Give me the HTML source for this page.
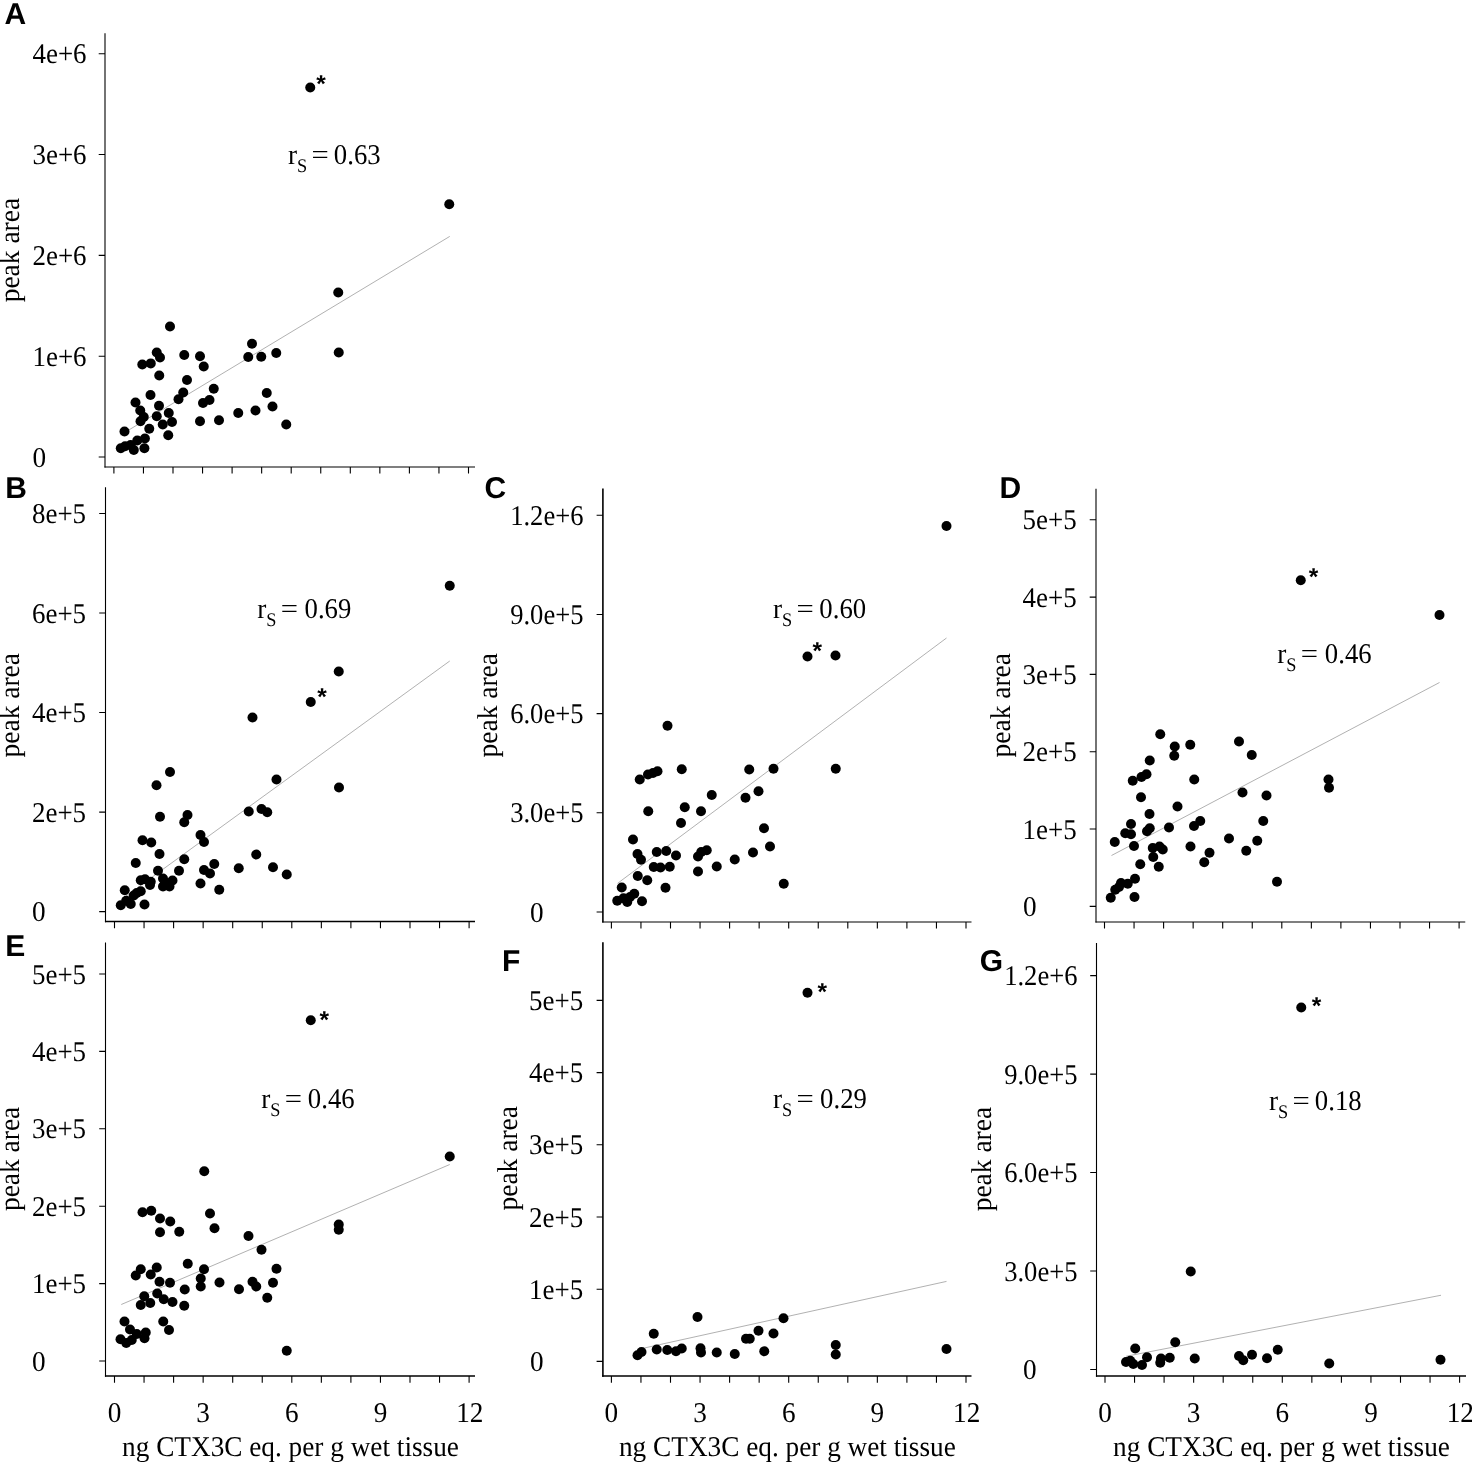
<!DOCTYPE html>
<html><head><meta charset="utf-8"><title>Figure</title>
<style>html,body{margin:0;padding:0;background:#fff}svg{display:block;will-change:transform}text{font-family:"Liberation Serif",serif;fill:#000;text-rendering:geometricPrecision}.pl{font-family:"Liberation Sans",sans-serif;font-weight:bold}.st{font-family:"Liberation Sans",sans-serif}</style></head><body>
<svg width="1472" height="1462" viewBox="0 0 1472 1462">
<rect width="1472" height="1462" fill="#fff"/>
<g id="panelA">
<path d="M105 33.2V467.55" fill="none" stroke="#000" stroke-width="1.1"/>
<path d="M104.45 467H475" fill="none" stroke="#000" stroke-width="1.1"/>
<path d="M98.7 53.75H105M98.7 154.56H105M98.7 255.38H105M98.7 356.19H105M98.7 457H105M113.9 467V473.6M143.45 467V473.6M173 467V473.6M202.55 467V473.6M232.1 467V473.6M261.65 467V473.6M291.2 467V473.6M320.75 467V473.6M350.3 467V473.6M379.85 467V473.6M409.4 467V473.6M438.95 467V473.6M468.5 467V473.6" fill="none" stroke="#000" stroke-width="1.1"/>
<text transform="translate(86.6 63.35) scale(0.942 1)" font-size="28.6" text-anchor="end">4e+6</text>
<text transform="translate(86.6 164.16) scale(0.942 1)" font-size="28.6" text-anchor="end">3e+6</text>
<text transform="translate(86.6 264.98) scale(0.942 1)" font-size="28.6" text-anchor="end">2e+6</text>
<text transform="translate(86.6 365.79) scale(0.942 1)" font-size="28.6" text-anchor="end">1e+6</text>
<text transform="translate(32.6 466.6) scale(0.952 1)" font-size="28.6" text-anchor="start">0</text>
<text class="pl" x="4.5" y="24.4" font-size="30">A</text>
<text transform="translate(19.3 250.1) rotate(-90) scale(0.96 1)" font-size="28.6" text-anchor="middle">peak area</text>
<text transform="translate(288 163.75) scale(0.952 1)" font-size="28.6" text-anchor="start">r</text>
<text transform="translate(297.05 172.15) scale(0.952 1)" font-size="19.2" text-anchor="start">S</text>
<text transform="translate(311.6 163.75) scale(1.07 1)" font-size="28.6" text-anchor="start">=</text>
<text transform="translate(380.65 163.75) scale(0.935 1)" font-size="28.6" text-anchor="end">0.63</text>
<line x1="120.5" y1="435" x2="449.75" y2="236.4" stroke="#707070" stroke-width="0.55"/>
<text class="st" x="321" y="91.6" font-size="24.5" font-weight="bold" text-anchor="middle">*</text>
<g fill="#000"><circle cx="310.25" cy="87.5" r="5.0"/><circle cx="449.25" cy="204.25" r="5.0"/><circle cx="338.25" cy="292.5" r="5.0"/><circle cx="170" cy="326.5" r="5.0"/><circle cx="252" cy="343.75" r="5.0"/><circle cx="156.75" cy="352.5" r="5.0"/><circle cx="184.25" cy="355" r="5.0"/><circle cx="200" cy="356.25" r="5.0"/><circle cx="248.25" cy="357" r="5.0"/><circle cx="261.25" cy="356.75" r="5.0"/><circle cx="276.25" cy="353" r="5.0"/><circle cx="338.75" cy="352.5" r="5.0"/><circle cx="160" cy="357.5" r="5.0"/><circle cx="150.75" cy="363.4" r="5.0"/><circle cx="142.3" cy="364.5" r="5.0"/><circle cx="203.75" cy="366.5" r="5.0"/><circle cx="159.25" cy="375.5" r="5.0"/><circle cx="187" cy="380" r="5.0"/><circle cx="213.75" cy="388.75" r="5.0"/><circle cx="266.75" cy="393" r="5.0"/><circle cx="150.5" cy="395" r="5.0"/><circle cx="183.25" cy="392.5" r="5.0"/><circle cx="178.5" cy="399.25" r="5.0"/><circle cx="209.5" cy="400" r="5.0"/><circle cx="203" cy="403" r="5.0"/><circle cx="135.5" cy="402.5" r="5.0"/><circle cx="159" cy="405.75" r="5.0"/><circle cx="272.5" cy="406.5" r="5.0"/><circle cx="140.25" cy="410.5" r="5.0"/><circle cx="255.5" cy="410.5" r="5.0"/><circle cx="168.75" cy="413" r="5.0"/><circle cx="238.25" cy="413" r="5.0"/><circle cx="143.75" cy="417" r="5.0"/><circle cx="156.75" cy="416.25" r="5.0"/><circle cx="140.5" cy="421.25" r="5.0"/><circle cx="200" cy="421.25" r="5.0"/><circle cx="219" cy="420.25" r="5.0"/><circle cx="172" cy="422" r="5.0"/><circle cx="162.75" cy="424.5" r="5.0"/><circle cx="286.25" cy="424.5" r="5.0"/><circle cx="149.25" cy="428.75" r="5.0"/><circle cx="124.5" cy="431.5" r="5.0"/><circle cx="168.25" cy="435.25" r="5.0"/><circle cx="144.9" cy="438.5" r="5.0"/><circle cx="137.3" cy="440.5" r="5.0"/><circle cx="130.6" cy="445" r="5.0"/><circle cx="125.1" cy="446.25" r="5.0"/><circle cx="120.8" cy="448.25" r="5.0"/><circle cx="144.4" cy="448.25" r="5.0"/><circle cx="133.8" cy="450" r="5.0"/></g>
</g>
<g id="panelB">
<path d="M105.5 487.3V922.3" fill="none" stroke="#000" stroke-width="1.1"/>
<path d="M104.95 921.55H475" fill="none" stroke="#000" stroke-width="1.5"/>
<path d="M99.2 513.5H105.5M99.2 613.02H105.5M99.2 712.55H105.5M99.2 812.08H105.5M99.2 911.6H105.5M114.5 921.55V928.15M144.05 921.55V928.15M173.6 921.55V928.15M203.15 921.55V928.15M232.7 921.55V928.15M262.25 921.55V928.15M291.8 921.55V928.15M321.35 921.55V928.15M350.9 921.55V928.15M380.45 921.55V928.15M410 921.55V928.15M439.55 921.55V928.15M469.1 921.55V928.15" fill="none" stroke="#000" stroke-width="1.1"/>
<text transform="translate(86.1 523.1) scale(0.942 1)" font-size="28.6" text-anchor="end">8e+5</text>
<text transform="translate(86.1 622.62) scale(0.942 1)" font-size="28.6" text-anchor="end">6e+5</text>
<text transform="translate(86.1 722.15) scale(0.942 1)" font-size="28.6" text-anchor="end">4e+5</text>
<text transform="translate(86.1 821.68) scale(0.942 1)" font-size="28.6" text-anchor="end">2e+5</text>
<text transform="translate(32 921.2) scale(0.952 1)" font-size="28.6" text-anchor="start">0</text>
<text class="pl" x="5.2" y="497.75" font-size="30">B</text>
<text transform="translate(19.3 705.2) rotate(-90) scale(0.96 1)" font-size="28.6" text-anchor="middle">peak area</text>
<text transform="translate(257.15 617.5) scale(0.952 1)" font-size="28.6" text-anchor="start">r</text>
<text transform="translate(266.2 625.9) scale(0.952 1)" font-size="19.2" text-anchor="start">S</text>
<text transform="translate(280.75 617.5) scale(1.07 1)" font-size="28.6" text-anchor="start">=</text>
<text transform="translate(351.35 617.5) scale(0.935 1)" font-size="28.6" text-anchor="end">0.69</text>
<line x1="120.75" y1="899.9" x2="449.75" y2="661" stroke="#707070" stroke-width="0.55"/>
<text class="st" x="322" y="704.85" font-size="24.5" font-weight="bold" text-anchor="middle">*</text>
<g fill="#000"><circle cx="449.75" cy="585.75" r="5.0"/><circle cx="338.75" cy="671.5" r="5.0"/><circle cx="310.75" cy="702" r="5.0"/><circle cx="252.5" cy="717.5" r="5.0"/><circle cx="170" cy="772" r="5.0"/><circle cx="156.5" cy="785.25" r="5.0"/><circle cx="276.5" cy="779.5" r="5.0"/><circle cx="339" cy="787.5" r="5.0"/><circle cx="187.5" cy="815" r="5.0"/><circle cx="160" cy="816.75" r="5.0"/><circle cx="184.25" cy="822.25" r="5.0"/><circle cx="248.75" cy="811.5" r="5.0"/><circle cx="261.5" cy="809" r="5.0"/><circle cx="267.25" cy="812.25" r="5.0"/><circle cx="200.5" cy="835" r="5.0"/><circle cx="204" cy="842" r="5.0"/><circle cx="142.5" cy="840.25" r="5.0"/><circle cx="151.25" cy="842.5" r="5.0"/><circle cx="159.5" cy="854" r="5.0"/><circle cx="256.25" cy="854.5" r="5.0"/><circle cx="135.75" cy="863" r="5.0"/><circle cx="184.25" cy="859.25" r="5.0"/><circle cx="214.25" cy="864" r="5.0"/><circle cx="238.75" cy="868.25" r="5.0"/><circle cx="273" cy="867.25" r="5.0"/><circle cx="158" cy="870.75" r="5.0"/><circle cx="179" cy="870.75" r="5.0"/><circle cx="204" cy="870" r="5.0"/><circle cx="210" cy="873.5" r="5.0"/><circle cx="286.75" cy="874.5" r="5.0"/><circle cx="140.75" cy="880.25" r="5.0"/><circle cx="145" cy="879.25" r="5.0"/><circle cx="150.75" cy="881.75" r="5.0"/><circle cx="163" cy="878.5" r="5.0"/><circle cx="172.5" cy="880.5" r="5.0"/><circle cx="150" cy="885" r="5.0"/><circle cx="165" cy="882.5" r="5.0"/><circle cx="163" cy="886.5" r="5.0"/><circle cx="169.5" cy="886.5" r="5.0"/><circle cx="200.5" cy="883.5" r="5.0"/><circle cx="124.75" cy="890.25" r="5.0"/><circle cx="219.25" cy="889.75" r="5.0"/><circle cx="140.75" cy="891.25" r="5.0"/><circle cx="136.75" cy="893" r="5.0"/><circle cx="133.75" cy="895.5" r="5.0"/><circle cx="126.25" cy="900.75" r="5.0"/><circle cx="120.75" cy="905.25" r="5.0"/><circle cx="130.75" cy="904" r="5.0"/><circle cx="144.5" cy="904.5" r="5.0"/></g>
</g>
<g id="panelC">
<path d="M602.9 488.5V922.55" fill="none" stroke="#000" stroke-width="1.6"/>
<path d="M602.1 922H971.5" fill="none" stroke="#000" stroke-width="1.1"/>
<path d="M596.6 515.25H602.9M596.6 614.44H602.9M596.6 713.62H602.9M596.6 812.81H602.9M596.6 912H602.9M611.4 922V928.6M640.95 922V928.6M670.5 922V928.6M700.05 922V928.6M729.6 922V928.6M759.15 922V928.6M788.7 922V928.6M818.25 922V928.6M847.8 922V928.6M877.35 922V928.6M906.9 922V928.6M936.45 922V928.6M966 922V928.6" fill="none" stroke="#000" stroke-width="1.1"/>
<text transform="translate(583.5 524.85) scale(0.93 1)" font-size="28.6" text-anchor="end">1.2e+6</text>
<text transform="translate(583.5 624.04) scale(0.93 1)" font-size="28.6" text-anchor="end">9.0e+5</text>
<text transform="translate(583.5 723.22) scale(0.93 1)" font-size="28.6" text-anchor="end">6.0e+5</text>
<text transform="translate(583.5 822.41) scale(0.93 1)" font-size="28.6" text-anchor="end">3.0e+5</text>
<text transform="translate(529.9 921.6) scale(0.952 1)" font-size="28.6" text-anchor="start">0</text>
<text class="pl" x="484.4" y="497.8" font-size="30">C</text>
<text transform="translate(496.6 705.2) rotate(-90) scale(0.96 1)" font-size="28.6" text-anchor="middle">peak area</text>
<text transform="translate(772.9 618) scale(0.952 1)" font-size="28.6" text-anchor="start">r</text>
<text transform="translate(781.95 626.4) scale(0.952 1)" font-size="19.2" text-anchor="start">S</text>
<text transform="translate(796.5 618) scale(1.07 1)" font-size="28.6" text-anchor="start">=</text>
<text transform="translate(866.15 618) scale(0.935 1)" font-size="28.6" text-anchor="end">0.60</text>
<line x1="617.5" y1="883.4" x2="946.5" y2="638" stroke="#707070" stroke-width="0.55"/>
<text class="st" x="817.25" y="659.1" font-size="24.5" font-weight="bold" text-anchor="middle">*</text>
<g fill="#000"><circle cx="946.5" cy="526" r="5.0"/><circle cx="807.5" cy="656.5" r="5.0"/><circle cx="835.5" cy="655.5" r="5.0"/><circle cx="667.5" cy="725.75" r="5.0"/><circle cx="681.75" cy="769.25" r="5.0"/><circle cx="657.5" cy="771.25" r="5.0"/><circle cx="653" cy="773" r="5.0"/><circle cx="648" cy="774.5" r="5.0"/><circle cx="639.75" cy="779.5" r="5.0"/><circle cx="711.75" cy="795" r="5.0"/><circle cx="684.75" cy="807.25" r="5.0"/><circle cx="648.25" cy="811.25" r="5.0"/><circle cx="701" cy="811.25" r="5.0"/><circle cx="681" cy="823" r="5.0"/><circle cx="633" cy="839.5" r="5.0"/><circle cx="656.75" cy="852" r="5.0"/><circle cx="666.25" cy="851" r="5.0"/><circle cx="706.75" cy="850.25" r="5.0"/><circle cx="701.25" cy="852" r="5.0"/><circle cx="637.5" cy="854" r="5.0"/><circle cx="676" cy="855.5" r="5.0"/><circle cx="698" cy="856.5" r="5.0"/><circle cx="641" cy="859.75" r="5.0"/><circle cx="734.75" cy="859.5" r="5.0"/><circle cx="653.75" cy="867" r="5.0"/><circle cx="660.5" cy="867.5" r="5.0"/><circle cx="669.75" cy="866.75" r="5.0"/><circle cx="716.75" cy="866.5" r="5.0"/><circle cx="698" cy="871.5" r="5.0"/><circle cx="637.75" cy="876" r="5.0"/><circle cx="647.25" cy="880.25" r="5.0"/><circle cx="665.5" cy="887.75" r="5.0"/><circle cx="621.75" cy="887.5" r="5.0"/><circle cx="634.25" cy="893.75" r="5.0"/><circle cx="630" cy="897" r="5.0"/><circle cx="623.5" cy="898.25" r="5.0"/><circle cx="617.25" cy="900.75" r="5.0"/><circle cx="627.25" cy="902" r="5.0"/><circle cx="642" cy="901.25" r="5.0"/><circle cx="749.25" cy="769.5" r="5.0"/><circle cx="773.5" cy="768.75" r="5.0"/><circle cx="835.75" cy="768.75" r="5.0"/><circle cx="758.5" cy="791.25" r="5.0"/><circle cx="745.5" cy="797.75" r="5.0"/><circle cx="764" cy="828.25" r="5.0"/><circle cx="770" cy="846.5" r="5.0"/><circle cx="753" cy="852.5" r="5.0"/><circle cx="783.75" cy="883.75" r="5.0"/></g>
</g>
<g id="panelD">
<path d="M1096 488.75V922.55" fill="none" stroke="#000" stroke-width="1.1"/>
<path d="M1095.45 922H1465.25" fill="none" stroke="#000" stroke-width="1.1"/>
<path d="M1089.7 519.75H1096M1089.7 597.08H1096M1089.7 674.41H1096M1089.7 751.74H1096M1089.7 829.07H1096M1089.7 906.4H1096M1104.5 922V928.6M1134.05 922V928.6M1163.6 922V928.6M1193.15 922V928.6M1222.7 922V928.6M1252.25 922V928.6M1281.8 922V928.6M1311.35 922V928.6M1340.9 922V928.6M1370.45 922V928.6M1400 922V928.6M1429.55 922V928.6M1459.1 922V928.6" fill="none" stroke="#000" stroke-width="1.1"/>
<text transform="translate(1076.7 529.35) scale(0.942 1)" font-size="28.6" text-anchor="end">5e+5</text>
<text transform="translate(1076.7 606.68) scale(0.942 1)" font-size="28.6" text-anchor="end">4e+5</text>
<text transform="translate(1076.7 684.01) scale(0.942 1)" font-size="28.6" text-anchor="end">3e+5</text>
<text transform="translate(1076.7 761.34) scale(0.942 1)" font-size="28.6" text-anchor="end">2e+5</text>
<text transform="translate(1076.7 838.67) scale(0.942 1)" font-size="28.6" text-anchor="end">1e+5</text>
<text transform="translate(1022.9 916) scale(0.952 1)" font-size="28.6" text-anchor="start">0</text>
<text class="pl" x="999.6" y="497.75" font-size="30">D</text>
<text transform="translate(1009.9 705.2) rotate(-90) scale(0.96 1)" font-size="28.6" text-anchor="middle">peak area</text>
<text transform="translate(1277.15 662.5) scale(0.952 1)" font-size="28.6" text-anchor="start">r</text>
<text transform="translate(1286.2 670.9) scale(0.952 1)" font-size="19.2" text-anchor="start">S</text>
<text transform="translate(1300.75 662.5) scale(1.07 1)" font-size="28.6" text-anchor="start">=</text>
<text transform="translate(1371.65 662.5) scale(0.935 1)" font-size="28.6" text-anchor="end">0.46</text>
<line x1="1111.5" y1="855.5" x2="1439.5" y2="682.5" stroke="#707070" stroke-width="0.55"/>
<text class="st" x="1313.5" y="584.85" font-size="24.5" font-weight="bold" text-anchor="middle">*</text>
<g fill="#000"><circle cx="1300.75" cy="580.25" r="5.0"/><circle cx="1439.5" cy="615" r="5.0"/><circle cx="1160.25" cy="734.25" r="5.0"/><circle cx="1239" cy="741.5" r="5.0"/><circle cx="1190.25" cy="744.75" r="5.0"/><circle cx="1174.75" cy="746.5" r="5.0"/><circle cx="1251.75" cy="755" r="5.0"/><circle cx="1174.25" cy="755.75" r="5.0"/><circle cx="1149.75" cy="760.5" r="5.0"/><circle cx="1146.5" cy="774.25" r="5.0"/><circle cx="1141.5" cy="777" r="5.0"/><circle cx="1132.75" cy="780.75" r="5.0"/><circle cx="1194.25" cy="779.5" r="5.0"/><circle cx="1328.5" cy="779.5" r="5.0"/><circle cx="1329" cy="787.75" r="5.0"/><circle cx="1242.5" cy="792.5" r="5.0"/><circle cx="1266.5" cy="795.5" r="5.0"/><circle cx="1141" cy="797.25" r="5.0"/><circle cx="1177.5" cy="806.5" r="5.0"/><circle cx="1149.5" cy="814" r="5.0"/><circle cx="1263.25" cy="821" r="5.0"/><circle cx="1200.25" cy="821" r="5.0"/><circle cx="1131" cy="824" r="5.0"/><circle cx="1194" cy="826" r="5.0"/><circle cx="1169" cy="827.5" r="5.0"/><circle cx="1149.75" cy="828.25" r="5.0"/><circle cx="1147" cy="831.25" r="5.0"/><circle cx="1125.25" cy="833.25" r="5.0"/><circle cx="1131" cy="834.25" r="5.0"/><circle cx="1229" cy="838.5" r="5.0"/><circle cx="1257.25" cy="840.75" r="5.0"/><circle cx="1114.75" cy="842" r="5.0"/><circle cx="1134" cy="846" r="5.0"/><circle cx="1190.5" cy="846.5" r="5.0"/><circle cx="1152.75" cy="848" r="5.0"/><circle cx="1159.5" cy="846.5" r="5.0"/><circle cx="1162.75" cy="849.5" r="5.0"/><circle cx="1246.25" cy="850.75" r="5.0"/><circle cx="1209.5" cy="852.75" r="5.0"/><circle cx="1153.25" cy="857" r="5.0"/><circle cx="1204.25" cy="862.25" r="5.0"/><circle cx="1140.25" cy="864.25" r="5.0"/><circle cx="1158.75" cy="866.75" r="5.0"/><circle cx="1135" cy="878.75" r="5.0"/><circle cx="1277" cy="881.75" r="5.0"/><circle cx="1121" cy="883" r="5.0"/><circle cx="1127.75" cy="883.75" r="5.0"/><circle cx="1119" cy="887" r="5.0"/><circle cx="1115.25" cy="889.75" r="5.0"/><circle cx="1110.75" cy="897.75" r="5.0"/><circle cx="1134.5" cy="897" r="5.0"/></g>
</g>
<g id="panelE">
<path d="M105.5 942.5V1376.85" fill="none" stroke="#000" stroke-width="1.1"/>
<path d="M104.95 1376.1H475" fill="none" stroke="#000" stroke-width="1.5"/>
<path d="M99.2 974H105.5M99.2 1051.41H105.5M99.2 1128.82H105.5M99.2 1206.24H105.5M99.2 1283.65H105.5M99.2 1361.06H105.5M114.5 1376.1V1382.7M144.05 1376.1V1382.7M173.6 1376.1V1382.7M203.15 1376.1V1382.7M232.7 1376.1V1382.7M262.25 1376.1V1382.7M291.8 1376.1V1382.7M321.35 1376.1V1382.7M350.9 1376.1V1382.7M380.45 1376.1V1382.7M410 1376.1V1382.7M439.55 1376.1V1382.7M469.1 1376.1V1382.7" fill="none" stroke="#000" stroke-width="1.1"/>
<text transform="translate(86.1 983.6) scale(0.942 1)" font-size="28.6" text-anchor="end">5e+5</text>
<text transform="translate(86.1 1061.01) scale(0.942 1)" font-size="28.6" text-anchor="end">4e+5</text>
<text transform="translate(86.1 1138.42) scale(0.942 1)" font-size="28.6" text-anchor="end">3e+5</text>
<text transform="translate(86.1 1215.84) scale(0.942 1)" font-size="28.6" text-anchor="end">2e+5</text>
<text transform="translate(86.1 1293.25) scale(0.942 1)" font-size="28.6" text-anchor="end">1e+5</text>
<text transform="translate(32 1370.66) scale(0.952 1)" font-size="28.6" text-anchor="start">0</text>
<text transform="translate(114.5 1421.8) scale(0.952 1)" font-size="28.6" text-anchor="middle">0</text>
<text transform="translate(203.15 1421.8) scale(0.952 1)" font-size="28.6" text-anchor="middle">3</text>
<text transform="translate(291.8 1421.8) scale(0.952 1)" font-size="28.6" text-anchor="middle">6</text>
<text transform="translate(380.45 1421.8) scale(0.952 1)" font-size="28.6" text-anchor="middle">9</text>
<text transform="translate(469.8 1421.8) scale(0.952 1)" font-size="28.6" text-anchor="middle">12</text>
<text transform="translate(122.1 1456.3) scale(0.953 1)" font-size="28.6" text-anchor="start">ng CTX3C eq. per g wet tissue</text>
<text class="pl" x="5.2" y="956" font-size="30">E</text>
<text transform="translate(19.3 1158.9) rotate(-90) scale(0.96 1)" font-size="28.6" text-anchor="middle">peak area</text>
<text transform="translate(261.15 1108) scale(0.952 1)" font-size="28.6" text-anchor="start">r</text>
<text transform="translate(270.2 1116.4) scale(0.952 1)" font-size="19.2" text-anchor="start">S</text>
<text transform="translate(284.75 1108) scale(1.07 1)" font-size="28.6" text-anchor="start">=</text>
<text transform="translate(354.65 1108) scale(0.935 1)" font-size="28.6" text-anchor="end">0.46</text>
<line x1="121.25" y1="1304.5" x2="449.75" y2="1164.5" stroke="#707070" stroke-width="0.55"/>
<text class="st" x="324.25" y="1027.85" font-size="24.5" font-weight="bold" text-anchor="middle">*</text>
<g fill="#000"><circle cx="310.75" cy="1020.25" r="5.0"/><circle cx="449.75" cy="1156.5" r="5.0"/><circle cx="204.25" cy="1171.25" r="5.0"/><circle cx="142.5" cy="1212.25" r="5.0"/><circle cx="151.25" cy="1210.75" r="5.0"/><circle cx="210" cy="1213.5" r="5.0"/><circle cx="160" cy="1218.5" r="5.0"/><circle cx="170.25" cy="1221.5" r="5.0"/><circle cx="214.5" cy="1228.25" r="5.0"/><circle cx="160" cy="1232.25" r="5.0"/><circle cx="179.25" cy="1231.75" r="5.0"/><circle cx="338.75" cy="1224.5" r="5.0"/><circle cx="338.75" cy="1229.75" r="5.0"/><circle cx="248.5" cy="1236" r="5.0"/><circle cx="261.5" cy="1249.75" r="5.0"/><circle cx="187.75" cy="1263.75" r="5.0"/><circle cx="156.75" cy="1267.5" r="5.0"/><circle cx="140.75" cy="1269.25" r="5.0"/><circle cx="276.5" cy="1268.75" r="5.0"/><circle cx="204" cy="1269.25" r="5.0"/><circle cx="150.75" cy="1274.5" r="5.0"/><circle cx="135.75" cy="1275.5" r="5.0"/><circle cx="200.75" cy="1278.5" r="5.0"/><circle cx="159.5" cy="1281.75" r="5.0"/><circle cx="170" cy="1282.75" r="5.0"/><circle cx="219.5" cy="1282.5" r="5.0"/><circle cx="252.5" cy="1281.75" r="5.0"/><circle cx="273" cy="1282.75" r="5.0"/><circle cx="200.75" cy="1286.5" r="5.0"/><circle cx="256.25" cy="1286.5" r="5.0"/><circle cx="184.75" cy="1289.5" r="5.0"/><circle cx="239" cy="1289.25" r="5.0"/><circle cx="157.25" cy="1293.5" r="5.0"/><circle cx="144.25" cy="1296.25" r="5.0"/><circle cx="267.25" cy="1297.75" r="5.0"/><circle cx="163.75" cy="1299.25" r="5.0"/><circle cx="172.5" cy="1302" r="5.0"/><circle cx="150.25" cy="1303" r="5.0"/><circle cx="140.75" cy="1305" r="5.0"/><circle cx="184.25" cy="1305.75" r="5.0"/><circle cx="124.5" cy="1321.5" r="5.0"/><circle cx="163.25" cy="1321.5" r="5.0"/><circle cx="130" cy="1329.5" r="5.0"/><circle cx="169" cy="1330" r="5.0"/><circle cx="145.75" cy="1332.5" r="5.0"/><circle cx="136.75" cy="1334" r="5.0"/><circle cx="144.5" cy="1338.25" r="5.0"/><circle cx="120.5" cy="1339.25" r="5.0"/><circle cx="131.75" cy="1340" r="5.0"/><circle cx="126.25" cy="1343" r="5.0"/><circle cx="286.75" cy="1350.75" r="5.0"/></g>
</g>
<g id="panelF">
<path d="M602.9 942.3V1376.85" fill="none" stroke="#000" stroke-width="1.6"/>
<path d="M602.1 1376.1H971.5" fill="none" stroke="#000" stroke-width="1.5"/>
<path d="M596.6 1000.4H602.9M596.6 1072.6H602.9M596.6 1144.8H602.9M596.6 1217H602.9M596.6 1289.2H602.9M596.6 1361.4H602.9M611.4 1376.1V1382.7M640.95 1376.1V1382.7M670.5 1376.1V1382.7M700.05 1376.1V1382.7M729.6 1376.1V1382.7M759.15 1376.1V1382.7M788.7 1376.1V1382.7M818.25 1376.1V1382.7M847.8 1376.1V1382.7M877.35 1376.1V1382.7M906.9 1376.1V1382.7M936.45 1376.1V1382.7M966 1376.1V1382.7" fill="none" stroke="#000" stroke-width="1.1"/>
<text transform="translate(583.2 1010) scale(0.942 1)" font-size="28.6" text-anchor="end">5e+5</text>
<text transform="translate(583.2 1082.2) scale(0.942 1)" font-size="28.6" text-anchor="end">4e+5</text>
<text transform="translate(583.2 1154.4) scale(0.942 1)" font-size="28.6" text-anchor="end">3e+5</text>
<text transform="translate(583.2 1226.6) scale(0.942 1)" font-size="28.6" text-anchor="end">2e+5</text>
<text transform="translate(583.2 1298.8) scale(0.942 1)" font-size="28.6" text-anchor="end">1e+5</text>
<text transform="translate(529.9 1371) scale(0.952 1)" font-size="28.6" text-anchor="start">0</text>
<text transform="translate(611.4 1421.8) scale(0.952 1)" font-size="28.6" text-anchor="middle">0</text>
<text transform="translate(700.05 1421.8) scale(0.952 1)" font-size="28.6" text-anchor="middle">3</text>
<text transform="translate(788.7 1421.8) scale(0.952 1)" font-size="28.6" text-anchor="middle">6</text>
<text transform="translate(877.35 1421.8) scale(0.952 1)" font-size="28.6" text-anchor="middle">9</text>
<text transform="translate(966.7 1421.8) scale(0.952 1)" font-size="28.6" text-anchor="middle">12</text>
<text transform="translate(619 1456.3) scale(0.953 1)" font-size="28.6" text-anchor="start">ng CTX3C eq. per g wet tissue</text>
<text class="pl" x="502" y="970.9" font-size="30">F</text>
<text transform="translate(516.7 1158.3) rotate(-90) scale(0.96 1)" font-size="28.6" text-anchor="middle">peak area</text>
<text transform="translate(772.9 1107.5) scale(0.952 1)" font-size="28.6" text-anchor="start">r</text>
<text transform="translate(781.95 1115.9) scale(0.952 1)" font-size="19.2" text-anchor="start">S</text>
<text transform="translate(796.5 1107.5) scale(1.07 1)" font-size="28.6" text-anchor="start">=</text>
<text transform="translate(866.9 1107.5) scale(0.935 1)" font-size="28.6" text-anchor="end">0.29</text>
<line x1="637.5" y1="1349.5" x2="946.5" y2="1281.4" stroke="#707070" stroke-width="0.55"/>
<text class="st" x="822.25" y="1000.35" font-size="24.5" font-weight="bold" text-anchor="middle">*</text>
<g fill="#000"><circle cx="807.5" cy="992.75" r="5.0"/><circle cx="697.5" cy="1317" r="5.0"/><circle cx="653.75" cy="1333.75" r="5.0"/><circle cx="656.75" cy="1349.5" r="5.0"/><circle cx="667.25" cy="1350" r="5.0"/><circle cx="681.75" cy="1348.5" r="5.0"/><circle cx="676" cy="1351.25" r="5.0"/><circle cx="700.5" cy="1348.25" r="5.0"/><circle cx="701" cy="1352.5" r="5.0"/><circle cx="716.75" cy="1352.5" r="5.0"/><circle cx="641.5" cy="1352" r="5.0"/><circle cx="637.5" cy="1355.25" r="5.0"/><circle cx="734.75" cy="1354" r="5.0"/><circle cx="783.5" cy="1318.25" r="5.0"/><circle cx="758.5" cy="1330.75" r="5.0"/><circle cx="773.5" cy="1333.5" r="5.0"/><circle cx="746" cy="1338.75" r="5.0"/><circle cx="749.75" cy="1338.75" r="5.0"/><circle cx="764.25" cy="1351.25" r="5.0"/><circle cx="835.75" cy="1345" r="5.0"/><circle cx="835.75" cy="1354.5" r="5.0"/><circle cx="946.5" cy="1349" r="5.0"/></g>
</g>
<g id="panelG">
<path d="M1096.5 943V1376.85" fill="none" stroke="#000" stroke-width="1.1"/>
<path d="M1095.95 1376.1H1466" fill="none" stroke="#000" stroke-width="1.5"/>
<path d="M1090.2 975.6H1096.5M1090.2 1074.08H1096.5M1090.2 1172.55H1096.5M1090.2 1271.03H1096.5M1090.2 1369.5H1096.5M1105 1376.1V1382.7M1134.55 1376.1V1382.7M1164.1 1376.1V1382.7M1193.65 1376.1V1382.7M1223.2 1376.1V1382.7M1252.75 1376.1V1382.7M1282.3 1376.1V1382.7M1311.85 1376.1V1382.7M1341.4 1376.1V1382.7M1370.95 1376.1V1382.7M1400.5 1376.1V1382.7M1430.05 1376.1V1382.7M1459.6 1376.1V1382.7" fill="none" stroke="#000" stroke-width="1.1"/>
<text transform="translate(1077.5 985.2) scale(0.93 1)" font-size="28.6" text-anchor="end">1.2e+6</text>
<text transform="translate(1077.5 1083.68) scale(0.93 1)" font-size="28.6" text-anchor="end">9.0e+5</text>
<text transform="translate(1077.5 1182.15) scale(0.93 1)" font-size="28.6" text-anchor="end">6.0e+5</text>
<text transform="translate(1077.5 1280.63) scale(0.93 1)" font-size="28.6" text-anchor="end">3.0e+5</text>
<text transform="translate(1022.9 1379.1) scale(0.952 1)" font-size="28.6" text-anchor="start">0</text>
<text transform="translate(1105 1421.8) scale(0.952 1)" font-size="28.6" text-anchor="middle">0</text>
<text transform="translate(1193.65 1421.8) scale(0.952 1)" font-size="28.6" text-anchor="middle">3</text>
<text transform="translate(1282.3 1421.8) scale(0.952 1)" font-size="28.6" text-anchor="middle">6</text>
<text transform="translate(1370.95 1421.8) scale(0.952 1)" font-size="28.6" text-anchor="middle">9</text>
<text transform="translate(1460.3 1421.8) scale(0.952 1)" font-size="28.6" text-anchor="middle">12</text>
<text transform="translate(1113.1 1456.3) scale(0.953 1)" font-size="28.6" text-anchor="start">ng CTX3C eq. per g wet tissue</text>
<text class="pl" x="979.8" y="970.95" font-size="30">G</text>
<text transform="translate(990.5 1159.1) rotate(-90) scale(0.96 1)" font-size="28.6" text-anchor="middle">peak area</text>
<text transform="translate(1268.9 1109.5) scale(0.952 1)" font-size="28.6" text-anchor="start">r</text>
<text transform="translate(1277.95 1117.9) scale(0.952 1)" font-size="19.2" text-anchor="start">S</text>
<text transform="translate(1292.5 1109.5) scale(1.07 1)" font-size="28.6" text-anchor="start">=</text>
<text transform="translate(1361.65 1109.5) scale(0.935 1)" font-size="28.6" text-anchor="end">0.18</text>
<line x1="1126" y1="1356.3" x2="1441" y2="1295.25" stroke="#707070" stroke-width="0.55"/>
<text class="st" x="1316.5" y="1014.35" font-size="24.5" font-weight="bold" text-anchor="middle">*</text>
<g fill="#000"><circle cx="1301.25" cy="1007.5" r="5.0"/><circle cx="1190.75" cy="1271.5" r="5.0"/><circle cx="1175.25" cy="1342.25" r="5.0"/><circle cx="1135.25" cy="1348.5" r="5.0"/><circle cx="1277.75" cy="1349.75" r="5.0"/><circle cx="1252" cy="1354.75" r="5.0"/><circle cx="1239" cy="1356" r="5.0"/><circle cx="1147" cy="1357.25" r="5.0"/><circle cx="1169.75" cy="1357.75" r="5.0"/><circle cx="1161" cy="1358.5" r="5.0"/><circle cx="1194.75" cy="1358.5" r="5.0"/><circle cx="1267" cy="1358.25" r="5.0"/><circle cx="1440.5" cy="1359.75" r="5.0"/><circle cx="1243.25" cy="1360.25" r="5.0"/><circle cx="1130.25" cy="1360.75" r="5.0"/><circle cx="1126" cy="1362" r="5.0"/><circle cx="1160.25" cy="1362.75" r="5.0"/><circle cx="1329.25" cy="1363.5" r="5.0"/><circle cx="1133.25" cy="1364" r="5.0"/><circle cx="1142" cy="1365" r="5.0"/></g>
</g>
</svg></body></html>
